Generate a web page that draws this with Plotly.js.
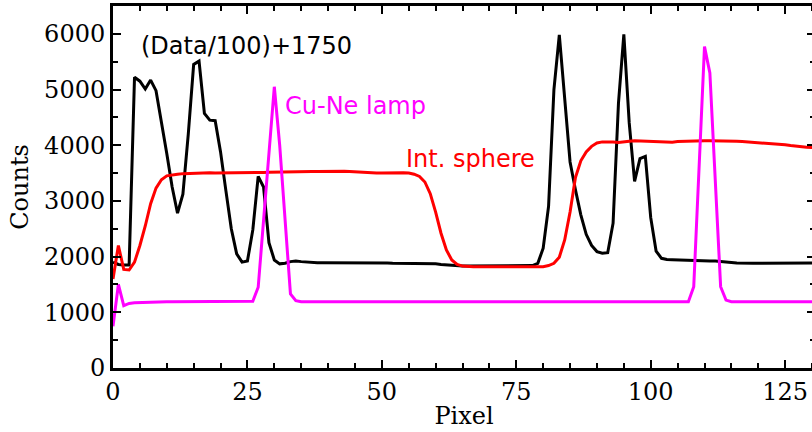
<!DOCTYPE html>
<html>
<head>
<meta charset="utf-8">
<script src="https://cdn.plot.ly/plotly-3.0.1.min.js"></script>
<style>html,body{margin:0;padding:0;background:#fff;overflow:hidden;width:812px;height:432px;}#chart{width:815px;height:432px;}</style>
</head>
<body>
<div id="chart"></div>
<script>
// Pixel index starts at 0, one value per pixel
var pixelStart = 0;
var pixelStep = 1;

// (Data/100)+1750 — black
var dataScaled = [
 1900,1860,1850,1850,5220,5150,5010,5170,4980,4450,
 3850,3250,2780,3120,4200,5450,5510,4570,4450,4440,
 3880,3180,2500,2050,1900,1920,2480,3440,3250,2250,
 1940,1870,1880,1910,1920,1910,1900,1890,1890,1890,
 1890,1890,1895,1890,1885,1890,1895,1890,1885,1890,
 1890,1885,1880,1880,1880,1880,1880,1875,1875,1870,
 1870,1860,1850,1840,1835,1830,1830,1830,1830,1830,
 1830,1830,1830,1830,1830,1830,1830,1830,1840,1880,
 2150,2900,5000,5980,4850,3700,3200,2750,2400,2200,
 2090,2060,2070,2600,4750,5990,4400,3350,3760,3800,
 2700,2100,1970,1950,1945,1940,1935,1930,1930,1925,
 1925,1920,1920,1915,1905,1895,1885,1880,1880,1880,
 1880,1880,1880,1882,1884,1885,1885,1885,1885,1885,
 1885
];

// Cu-Ne lamp — magenta
var cuNeLamp = [
 750,1500,1120,1160,1170,1175,1180,1185,1185,1185,
 1188,1188,1188,1190,1190,1190,1190,1190,1190,1190,
 1190,1190,1190,1190,1190,1190,1200,1450,2650,3850,
 5050,4000,2650,1330,1210,1190,1190,1190,1190,1190,
 1190,1190,1190,1190,1190,1190,1190,1190,1190,1190,
 1190,1190,1190,1190,1190,1190,1190,1190,1190,1190,
 1190,1190,1190,1190,1190,1190,1190,1190,1190,1190,
 1190,1190,1190,1190,1190,1190,1190,1190,1190,1190,
 1190,1190,1190,1190,1190,1190,1190,1190,1190,1190,
 1190,1190,1190,1190,1190,1190,1190,1190,1190,1190,
 1190,1190,1190,1190,1190,1190,1190,1190,1460,3600,
 5770,5300,3380,1460,1220,1190,1190,1190,1190,1190,
 1190,1190,1190,1190,1190,1190,1190,1190,1190,1190,
 1190
];

// Int. sphere — red
var intSphere = [
 1600,2200,1770,1760,1900,2200,2550,2950,3230,3380,
 3450,3470,3480,3490,3495,3500,3500,3505,3505,3500,
 3500,3500,3502,3505,3505,3505,3508,3510,3512,3515,
 3515,3518,3520,3520,3522,3520,3525,3528,3530,3532,
 3535,3538,3540,3535,3528,3520,3512,3505,3500,3500,
 3502,3505,3510,3510,3505,3500,3480,3440,3340,3130,
 2800,2420,2120,1940,1860,1830,1820,1820,1820,1820,
 1820,1820,1820,1820,1820,1820,1820,1820,1820,1820,
 1820,1840,1880,1990,2300,2800,3420,3720,3880,3980,
 4040,4060,4065,4060,4050,4055,4070,4080,4075,4070,
 4065,4060,4055,4050,4055,4065,4070,4075,4078,4080,
 4080,4080,4080,4078,4075,4072,4070,4065,4058,4052,
 4048,4045,4040,4035,4022,4010,3995,3982,3972,3965,
 3960
];

var labels = ["(Data/100)+1750", "Cu-Ne lamp", "Int. sphere"];
var colors = ["#000000", "#ff00ff", "#ff0000"];

var serif = {family: "DejaVu Serif", size: 24, color: "#000"};
var sans = "DejaVu Sans";

var traces = [
  {y: dataScaled, x0: pixelStart, dx: pixelStep, type: "scatter", mode: "lines", line: {color: colors[0], width: 3}, hoverinfo: "skip"},
  {y: intSphere, x0: pixelStart, dx: pixelStep, type: "scatter", mode: "lines", line: {color: colors[2], width: 3}, hoverinfo: "skip"},
  {y: cuNeLamp, x0: pixelStart, dx: pixelStep, type: "scatter", mode: "lines", line: {color: colors[1], width: 3}, hoverinfo: "skip"}
];

var axisCommon = {
  showgrid: false, zeroline: false, showline: true, linewidth: 3, linecolor: "#000",
  mirror: "ticks", ticks: "inside", ticklen: 8, tickwidth: 2, tickcolor: "#000",
  tickfont: serif
};

var layout = {
  width: 815, height: 432,
  margin: {l: 113, r: 0, t: 6, b: 64, pad: 0},
  paper_bgcolor: "#fff", plot_bgcolor: "#fff",
  showlegend: false,
  xaxis: Object.assign({}, axisCommon, {
    range: [0, 130.55], tick0: 0, dtick: 25,
    minor: {ticks: "inside", ticklen: 5, tickwidth: 2, tickcolor: "#000", dtick: 5, tick0: 0, showgrid: false},
    title: {text: "Pixel", font: serif, standoff: 3}
  }),
  yaxis: Object.assign({}, axisCommon, {
    range: [0, 6500], tick0: 0, dtick: 1000,
    minor: {ticks: "inside", ticklen: 5, tickwidth: 2, tickcolor: "#000", dtick: 500, tick0: 0, showgrid: false},
    title: {text: "Counts", font: serif, standoff: 9}
  }),
  annotations: [
    {x: 4.9, y: 5784, xref: "x", yref: "y", xanchor: "left", yanchor: "middle", text: labels[0], showarrow: false, font: {family: sans, size: 24, color: colors[0]}},
    {x: 31.6, y: 4706, xref: "x", yref: "y", xanchor: "left", yanchor: "middle", text: labels[1], showarrow: false, font: {family: sans, size: 24, color: colors[1]}},
    {x: 54.1, y: 3754, xref: "x", yref: "y", xanchor: "left", yanchor: "middle", text: labels[2], showarrow: false, font: {family: sans, size: 24, color: colors[2]}}
  ]
};

Plotly.newPlot("chart", traces, layout, {staticPlot: true, displayModeBar: false});
</script>
</body>
</html>
